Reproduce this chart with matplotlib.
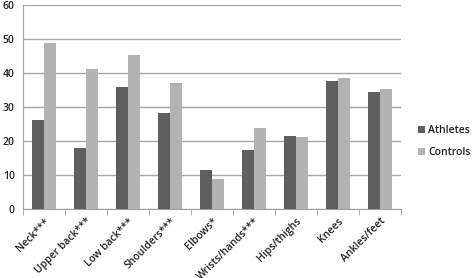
import matplotlib
matplotlib.use("Agg")
import matplotlib.pyplot as plt
import numpy as np

categories = ["Neck***", "Upper back***", "Low back***", "Shoulders***", "Elbows*",
              "Wrists/hands***", "Hips/thighs", "Knees", "Ankles/feet"]
athletes = [26.3, 18.0, 35.8, 28.3, 11.4, 17.5, 21.4, 37.8, 34.4]
controls = [48.7, 41.2, 45.3, 37.1, 8.7, 23.8, 21.2, 38.4, 35.3]
yticks = [0, 10, 20, 30, 40, 50, 60]

plt.rcParams['font.family'] = ['Open Sans', 'DejaVu Sans']
plt.rcParams['font.weight'] = 'semibold'
plt.rcParams['text.color'] = '#222222'
plt.rcParams['xtick.labelcolor'] = '#222222'
plt.rcParams['ytick.labelcolor'] = '#222222'

fig = plt.figure(figsize=(4.72, 2.78), dpi=100)
ax = fig.add_axes([0.049, 0.248, 0.801, 0.734])

x = np.arange(len(categories))
w = 0.28
ax.bar(x - w / 2, athletes, w, color="#5f5f5f", label="Athletes", zorder=3)
ax.bar(x + w / 2, controls, w, color="#b3b3b3", label="Controls", zorder=3)

ax.set_xlim(-0.5, len(categories) - 0.5)
ax.set_ylim(0, 60)
ax.set_yticks(yticks)
ax.yaxis.grid(True, color="#a8a8a8", linewidth=1.0, zorder=0)
ax.tick_params(axis='y', length=0, labelsize=7.5, pad=6)
for s in ["top", "right"]:
    ax.spines[s].set_visible(False)
ax.spines["left"].set_color("#a0a0a0")
ax.spines["bottom"].set_color("#a0a0a0")

ax.set_xticks(x)
ax.set_xticklabels(categories, rotation=45, ha="right", rotation_mode="anchor", fontsize=7.5)
ax.tick_params(axis='x', which='major', length=0, pad=5)
ax.set_xticks(np.arange(-0.5, len(categories)), minor=True)
ax.tick_params(axis='x', which='minor', length=4, color="#a0a0a0", direction='out')

ax.legend(loc="center left", bbox_to_anchor=(1.03, 0.33), frameon=False, fontsize=7.5,
          handlelength=0.7, handleheight=0.7, handletextpad=0.3, labelspacing=1.1,
          borderpad=0)

fig.savefig("out.png", dpi=100)
